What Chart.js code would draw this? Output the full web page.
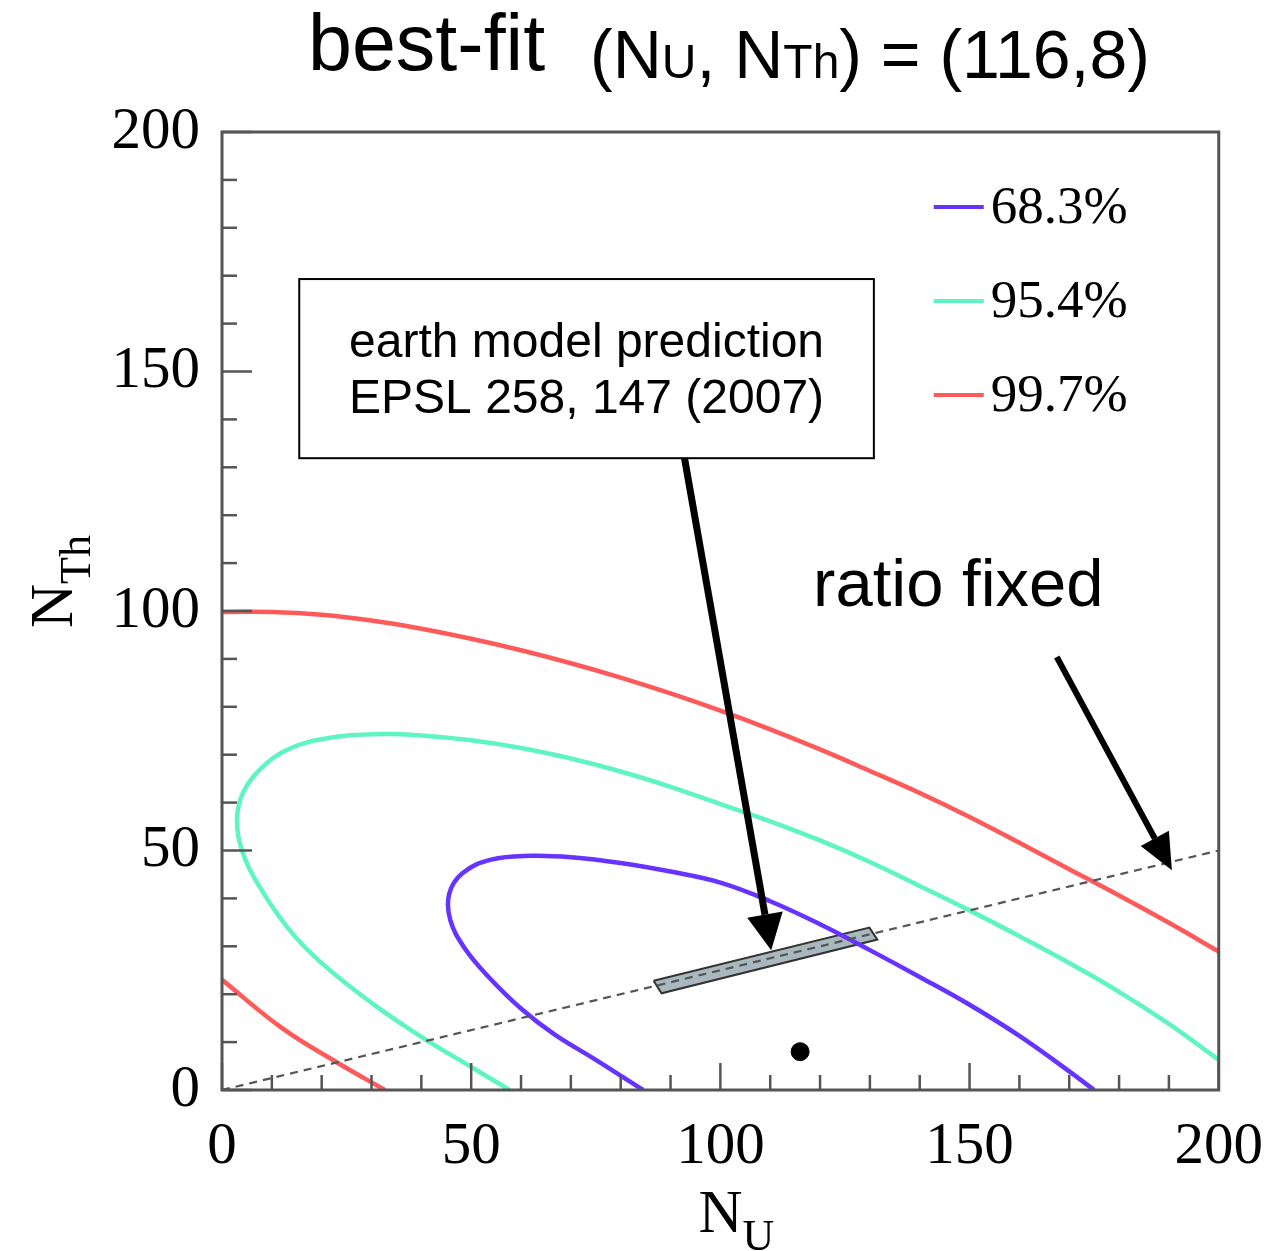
<!DOCTYPE html>
<html>
<head>
<meta charset="utf-8">
<script src="https://cdn.jsdelivr.net/npm/chart.js@4.4.1/dist/chart.umd.min.js"></script>
<style>
  html, body { margin: 0; padding: 0; background: #fff; }
  #wrap { width: 1285px; height: 1251px; }
</style>
</head>
<body>
<div id="wrap"><canvas id="contourChart"></canvas></div>
<script>
// --- data (N_U, N_Th) ---
const cl997Upper = [[0,99.8],[10,99.8],[20,99.2],[30,98],[40,96.3],[50,94.2],[60,91.8],[70,89.1],[80,86.1],[90,82.8],[100,79.2],[110,75.3],[120,71.1],[130,66.6],[140,62],[150,57],[160,51.6],[170,46.1],[180,40.6],[190,34.9],[200,28.9]];
const cl997Lower = [[0,23],[12.2,12.8],[23,5.8],[32.7,0]];
const cl954 = [[57.7,0],[50,4.8],[40,11.1],[30,18.2],[20,26.5],[13.4,33.6],[7.5,42.5],[4,50],[3,56.5],[4.2,62],[7.5,66.8],[13.4,71.2],[22,73.6],[32,74.3],[40,74],[50,73],[60,71.4],[70,69.2],[80,66.5],[90,63.3],[100,59.7],[110,56.1],[120,52.1],[130,47.6],[140,42.6],[150,37.5],[160,32.1],[170,26.5],[180,20.5],[190,13.8],[200,6.3]];
const cl683 = [[84.5,0],[75,6.3],[66.7,11.6],[60.1,16.9],[53.5,23.6],[48.7,29.6],[45.8,35.5],[45.6,41],[48.3,45.3],[54,48.1],[62,48.9],[70,48.6],[80,47.4],[90,45.6],[100,43.3],[110,39.4],[120,34.6],[130,29.2],[140,23.6],[150,17.8],[160,11.3],[170,3.9],[175,0]];
const ratioFixed = [[0,0],[200,50]];
const modelBand = [[86.6,22.8],[88.2,20.2],[131.5,31.4],[129.9,33.9],[86.6,22.8]];
const bestFit = [[116,8]];

const legendLabels = ['68.3%', '95.4%', '99.7%'];
const axisTicks = [0, 50, 100, 150, 200];

// annotation anchors in data units
const boxCorners = [[15.5,169.3],[130.8,131.9]];
const boxLines = ['earth model prediction', 'EPSL 258, 147 (2007)'];
const arrowModel = [[92.8,131.9],[110.2,29.2]];
const arrowRatio = [[167.5,90.4],[190.6,45.9]];
const ratioLabelAt = [119,101];

const BLUE = '#6633ff', CYAN = '#5ef5c3', RED = '#ff5a5a';
const SANS = '"Liberation Sans", Arial, Helvetica, sans-serif';
const SERIF = '"Liberation Serif", "Times New Roman", serif';

const pts = arr => arr.map(p => ({ x: p[0], y: p[1] }));

function drawArrow(ctx, x1, y1, x2, y2, w, headLen, headW) {
    const a = Math.atan2(y2 - y1, x2 - x1);
    const bx = x2 - headLen * Math.cos(a), by = y2 - headLen * Math.sin(a);
    ctx.save();
    ctx.strokeStyle = '#000';
    ctx.fillStyle = '#000';
    ctx.lineWidth = w;
    ctx.beginPath();
    ctx.moveTo(x1, y1);
    ctx.lineTo(bx, by);
    ctx.stroke();
    ctx.beginPath();
    ctx.moveTo(x2, y2);
    ctx.lineTo(bx + headW / 2 * Math.sin(a), by - headW / 2 * Math.cos(a));
    ctx.lineTo(bx - headW / 2 * Math.sin(a), by + headW / 2 * Math.cos(a));
    ctx.closePath();
    ctx.fill();
    ctx.restore();
}

// text with a subscript, returns end x
function subText(ctx, parts, x, y) {
    parts.forEach(p => {
        ctx.font = p.font;
        ctx.fillText(p.t, x, y + (p.dy || 0));
        x += ctx.measureText(p.t).width;
    });
    return x;
}

const overlay = {
    id: 'overlay',
    afterDatasetsDraw(chart) {
        const { ctx, chartArea: a, scales: { x, y } } = chart;
        ctx.save();

        // inward ticks
        ctx.strokeStyle = '#555';
        ctx.lineWidth = 2.5;
        x.ticks.forEach(t => {
            const px = x.getPixelForValue(t.value);
            const len = t.value % 50 === 0 ? 27 : 15;
            ctx.beginPath(); ctx.moveTo(px, a.bottom); ctx.lineTo(px, a.bottom - len); ctx.stroke();
        });
        y.ticks.forEach(t => {
            const py = y.getPixelForValue(t.value);
            const len = t.value % 50 === 0 ? 30 : 15;
            ctx.beginPath(); ctx.moveTo(a.left, py); ctx.lineTo(a.left + len, py); ctx.stroke();
        });

        // frame
        ctx.lineWidth = 3;
        ctx.strokeRect(a.left, a.top, a.right - a.left, a.bottom - a.top);

        // legend
        const colors = [BLUE, CYAN, RED];
        legendLabels.forEach((lab, i) => {
            const ly = a.top + 75 + i * 94;
            ctx.strokeStyle = colors[i];
            ctx.lineWidth = 4;
            ctx.beginPath(); ctx.moveTo(a.right - 285, ly); ctx.lineTo(a.right - 235, ly); ctx.stroke();
            ctx.fillStyle = '#000';
            ctx.font = '53px ' + SERIF;
            ctx.textBaseline = 'middle';
            ctx.textAlign = 'left';
            ctx.fillText(lab, a.right - 228, ly + 2);
        });

        // model box
        const bx1 = x.getPixelForValue(boxCorners[0][0]), by1 = y.getPixelForValue(boxCorners[0][1]);
        const bx2 = x.getPixelForValue(boxCorners[1][0]), by2 = y.getPixelForValue(boxCorners[1][1]);
        ctx.fillStyle = '#fff';
        ctx.fillRect(bx1, by1, bx2 - bx1, by2 - by1);
        ctx.strokeStyle = '#000';
        ctx.lineWidth = 2;
        ctx.strokeRect(bx1, by1, bx2 - bx1, by2 - by1);
        ctx.fillStyle = '#000';
        ctx.font = '48px ' + SANS;
        ctx.textAlign = 'center';
        ctx.textBaseline = 'alphabetic';
        ctx.fillText(boxLines[0], (bx1 + bx2) / 2, by1 + 78);
        ctx.fillText(boxLines[1], (bx1 + bx2) / 2, by1 + 134);

        // arrows
        drawArrow(ctx, x.getPixelForValue(arrowModel[0][0]), y.getPixelForValue(arrowModel[0][1]),
            x.getPixelForValue(arrowModel[1][0]), y.getPixelForValue(arrowModel[1][1]), 7, 36, 36);
        drawArrow(ctx, x.getPixelForValue(arrowRatio[0][0]), y.getPixelForValue(arrowRatio[0][1]),
            x.getPixelForValue(arrowRatio[1][0]), y.getPixelForValue(arrowRatio[1][1]), 6, 36, 32);

        // ratio fixed label
        ctx.font = '67px ' + SANS;
        ctx.textAlign = 'left';
        ctx.fillText('ratio fixed', x.getPixelForValue(ratioLabelAt[0]) - 2, y.getPixelForValue(ratioLabelAt[1]));

        ctx.restore();
    },
    afterDraw(chart) {
        const { ctx, chartArea: a } = chart;
        ctx.save();
        ctx.fillStyle = '#000';
        ctx.textAlign = 'left';
        ctx.textBaseline = 'alphabetic';

        // title
        ctx.font = '79px ' + SANS;
        ctx.fillText('best-fit', 308, 70);
        const big = '68px ' + SANS, small = '48px ' + SANS;
        subText(ctx, [
            { t: '(N', font: big }, { t: 'U', font: small },
            { t: ', N', font: big }, { t: 'Th', font: small },
            { t: ') = (116,8)', font: big }
        ], 590, 78);

        // x axis title
        const xc = (a.left + a.right) / 2;
        subText(ctx, [
            { t: 'N', font: '61px ' + SERIF },
            { t: 'U', font: '44px ' + SERIF, dy: 18 }
        ], xc - 22, 1232);

        // y axis title
        ctx.translate(72, 628);
        ctx.rotate(-Math.PI / 2);
        subText(ctx, [
            { t: 'N', font: '61px ' + SERIF },
            { t: 'Th', font: '44px ' + SERIF, dy: 18 }
        ], 0, 0);
        ctx.restore();
    }
};

const lineDs = (data, color, extra) => Object.assign({
    data: pts(data), borderColor: color, borderWidth: 4.5, pointRadius: 0,
    fill: false, tension: 0.4, showLine: true
}, extra || {});

new Chart(document.getElementById('contourChart'), {
    type: 'scatter',
    data: {
        datasets: [
            { data: pts(bestFit), backgroundColor: '#000', borderColor: '#000', pointRadius: 9, showLine: false },
            lineDs(ratioFixed, '#555', { borderWidth: 2.2, borderDash: [8, 6], tension: 0 }),
            lineDs(cl683, BLUE),
            lineDs(modelBand, '#333', { borderWidth: 2, tension: 0, fill: 'shape', backgroundColor: '#a9b7bf' }),
            lineDs(cl954, CYAN),
            lineDs(cl997Upper, RED),
            lineDs(cl997Lower, RED)
        ]
    },
    options: {
        responsive: true,
        maintainAspectRatio: false,
        animation: false,
        layout: { padding: { top: 132, right: 65, left: 0, bottom: 0 } },
        plugins: { legend: { display: false }, tooltip: { enabled: false } },
        scales: {
            x: {
                type: 'linear', min: 0, max: 200,
                grid: { display: false, drawTicks: false },
                border: { display: false },
                ticks: {
                    stepSize: 10, autoSkip: false, maxRotation: 0, padding: 22, color: '#000',
                    font: { family: SERIF, size: 59 },
                    callback: v => axisTicks.includes(v) ? v : ''
                },
                afterFit(s) { s.height = 161; }
            },
            y: {
                type: 'linear', min: 0, max: 200,
                grid: { display: false, drawTicks: false },
                border: { display: false },
                ticks: {
                    stepSize: 10, autoSkip: false, padding: 22, color: '#000',
                    font: { family: SERIF, size: 59 },
                    callback: v => axisTicks.includes(v) ? v : ''
                },
                afterFit(s) { s.width = 222; }
            }
        }
    },
    plugins: [overlay]
});
</script>
</body>
</html>
